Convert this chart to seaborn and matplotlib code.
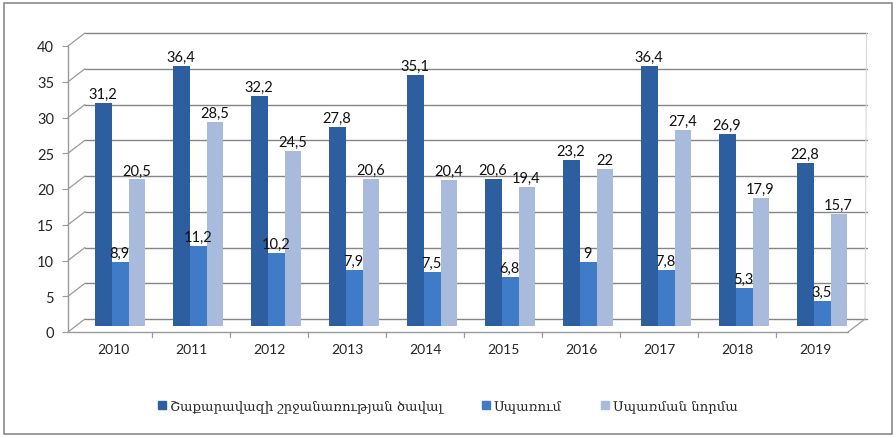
import numpy as np
import pandas as pd
import matplotlib
matplotlib.use('Agg')
import matplotlib.pyplot as plt
import matplotlib.transforms as mtransforms
from matplotlib.patches import Rectangle
import seaborn as sns

# data
years = ['2010', '2011', '2012', '2013', '2014', '2015', '2016', '2017', '2018', '2019']
turnover = [31.2, 36.4, 32.2, 27.8, 35.1, 20.6, 23.2, 36.4, 26.9, 22.8]
consumption = [8.9, 11.2, 10.2, 7.9, 7.5, 6.8, 9.0, 7.8, 5.3, 3.5]
norm = [20.5, 28.5, 24.5, 20.6, 20.4, 19.4, 22.0, 27.4, 17.9, 15.7]
series_names = ['Շաքարավազի շրջանառության ծավալ', 'Սպառում', 'Սպառման նորմա']
colors = ['#2d5fa0', '#3f7bc6', '#a8bbdd']

df = pd.DataFrame({
    'year': years * 3,
    'value': turnover + consumption + norm,
    'series': [series_names[0]] * 10 + [series_names[1]] * 10 + [series_names[2]] * 10,
})

sns.set_style('white')
plt.rcParams['font.family'] = ['Lato', 'DejaVu Sans']

fig = plt.figure(figsize=(8.96, 4.39), dpi=100)
ax = fig.add_axes([68 / 896, 1 - 333 / 439, 780 / 896, 286 / 439])

sns.barplot(data=df, x='year', y='value', hue='series', palette=colors,
            saturation=1, width=0.64, gap=0, ax=ax, legend=False, zorder=3,
            edgecolor='none')

ax.set_ylim(0, 40)
ax.set_xlim(-0.58, 9.42)
for s in ax.spines.values():
    s.set_visible(False)

# pseudo 3D: back wall offset, bars sit halfway in depth
off = mtransforms.ScaledTranslation(0.17, 0.13, fig.dpi_scale_trans)
half = mtransforms.ScaledTranslation(0.07, 0.06, fig.dpi_scale_trans)
lab_off = mtransforms.ScaledTranslation(0.065, 0.08, fig.dpi_scale_trans)
back = ax.transData + off
for p in ax.patches:
    p.set_transform(ax.transData + half)

x0, x1 = ax.get_xlim()
for y in range(0, 45, 5):
    ax.plot([x0, x1 + 0.02], [y, y], color='#858585', lw=1.0, transform=back,
            clip_on=False, zorder=1)
# left diagonals
for y in range(0, 45, 5):
    p_front = ax.transData.transform((x0, y))
    p_back = back.transform((x0, y))
    ax.plot([p_front[0], p_back[0]], [p_front[1], p_back[1]], color='#9a9a9a', lw=0.9,
            transform=None, clip_on=False, zorder=1)
# floor front edge and left axis
ax.plot([x0, x1], [0, 0], color='#9a9a9a', lw=1.0, clip_on=False, zorder=4)
ax.plot([x0, x0], [0, 40], color='#9a9a9a', lw=1.0, clip_on=False, zorder=4)
p_a = ax.transData.transform((x1, 0))
p_b = back.transform((x1, 0))
ax.plot([p_a[0], p_b[0]], [p_a[1], p_b[1]], color='#9a9a9a', lw=0.9,
        transform=None, clip_on=False, zorder=4)
p_c = back.transform((x1 + 0.02, 40))
ax.plot([p_b[0], p_c[0]], [p_b[1], p_c[1]], color='#d8d8d8', lw=0.8,
        transform=None, clip_on=False, zorder=1)

ax.set_yticks(range(0, 45, 5))
ax.tick_params(axis='y', length=4, color='#9a9a9a', labelsize=10.5, pad=6, left=True)
ax.tick_params(axis='x', length=0, labelsize=10, pad=8)
ax.set_xlabel('')
ax.set_ylabel('')
ax.grid(False)
# group separator ticks on floor
for i in range(1, 10):
    ax.plot([i - 0.5, i - 0.5], [0, -0.7], color='#9a9a9a', lw=0.9, clip_on=False)

# value labels
for cont in ax.containers:
    for bar, v in zip(cont.patches, cont.datavalues):
        ax.text(bar.get_x() + bar.get_width() / 2, v, f'{v:g}'.replace('.', ','),
                ha='center', va='bottom', fontsize=10.5, color='#111111',
                transform=ax.transData + lab_off, zorder=5, clip_on=False)

# legend
handles = [Rectangle((0, 0), 1, 1, color=c) for c in colors]
fig.legend(handles, series_names, loc='center', bbox_to_anchor=(0.5, 1 - 407 / 439),
           ncol=3, frameon=False, handlelength=0.6, handleheight=0.6,
           handletextpad=0.3, columnspacing=3.0,
           prop={'family': ['DejaVu Serif', 'DejaVu Sans'], 'size': 9.5})

# outer border
fig.patches.append(Rectangle((4 / 896, 4 / 439), 888 / 896, 431 / 439, transform=fig.transFigure,
                             fill=False, edgecolor='#8a8a8a', lw=1.2))

fig.savefig('out.png', dpi=100)
